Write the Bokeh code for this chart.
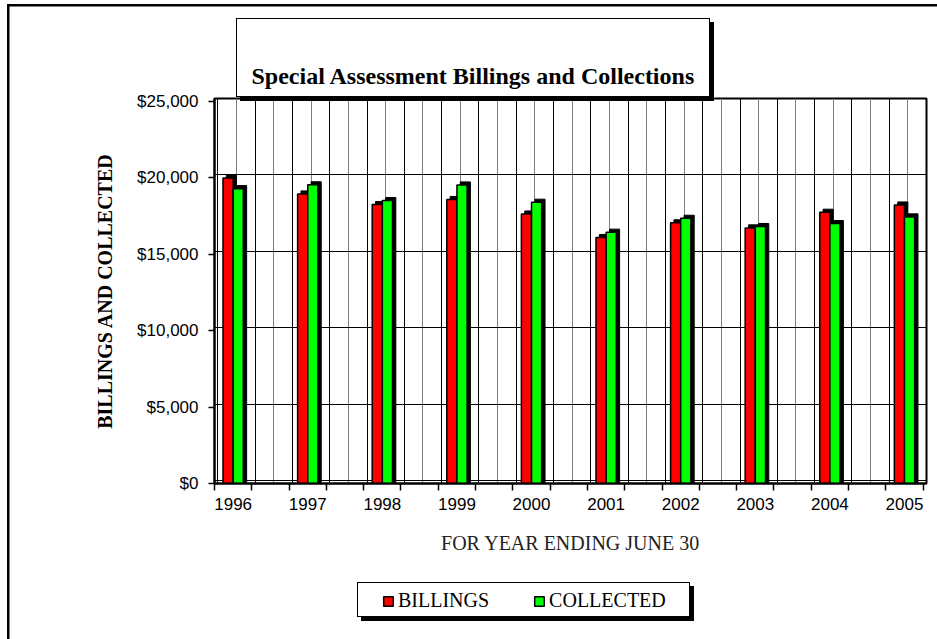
from bokeh.plotting import figure
from bokeh.layouts import column
from bokeh.models import (FixedTicker, NumeralTickFormatter, Legend, LegendItem,
                          ColumnDataSource, InlineStyleSheet)
from bokeh.transform import dodge
from bokeh.embed import file_html
from bokeh.resources import INLINE

# ---- data -------------------------------------------------------------
years = ["1996", "1997", "1998", "1999", "2000", "2001", "2002", "2003", "2004", "2005"]
billings = [20000, 18950, 18260, 18590, 17640, 16100, 17060, 16730, 17755, 18230]
collected = [19300, 19550, 18520, 19540, 18410, 16450, 17360, 16820, 17015, 17450]
y_ticks = [0, 5000, 10000, 15000, 20000, 25000]

# ---- style constants --------------------------------------------------
DX = 0.045      # pseudo 3-D depth (category units)
DY = 200        # pseudo 3-D depth (value units)
BAR_W = 0.136
OFF = 0.068
SERIF = "Liberation Serif"
SANS = "Liberation Sans"
RED = "#ff0000"
GREEN = "#00ff00"

idx = list(range(len(years)))
src = ColumnDataSource(dict(
    x=idx,
    billings=billings,
    collected=collected,
    bill_sh=[v + DY for v in billings],
    coll_sh=[v + DY for v in collected],
))

# decorative frames: chart border, title box and legend box with drop shadows
css = """
:host {
  position: relative;
  background:
    linear-gradient(#000, #000) 7px 4px / 2.5px 700px no-repeat,
    linear-gradient(#000, #000) 7px 4px / 1000px 2.5px no-repeat,
    #ffffff;
}
:host::before {
  content: ""; position: absolute; left: 236px; top: 18px;
  width: 474px; height: 79px; box-sizing: border-box;
  border: 1.5px solid #000; box-shadow: 4px 4px 0 #000;
  pointer-events: none; z-index: 5;
}
:host::after {
  content: ""; position: absolute; left: 357px; top: 582px;
  width: 333px; height: 35px; box-sizing: border-box;
  border: 1.5px solid #000; box-shadow: 4px 4px 0 #000;
  pointer-events: none; z-index: 5;
}
"""

p = figure(width=937, height=565,
           x_range=(-0.25, len(years) - 0.75 + DX),
           y_range=(0, y_ticks[-1] + DY),
           output_backend="svg", toolbar_location=None,
           min_border_left=214, min_border_right=11,
           min_border_top=98, min_border_bottom=82)
p.background_fill_color = "white"
p.border_fill_alpha = 0
p.outline_line_color = "black"
p.outline_line_width = 2

# grid (back wall, shifted by depth)
p.xgrid.ticker = FixedTicker(ticks=[-0.25 + DX + 0.5 * k for k in range(20)],
                             minor_ticks=[-0.25 + DX + 0.25 + 0.5 * k for k in range(19)])
p.xgrid.grid_line_color = "black"
p.xgrid.grid_line_width = 1
p.xgrid.minor_grid_line_color = "#808080"
p.xgrid.minor_grid_line_width = 1
p.ygrid.ticker = FixedTicker(ticks=[t + DY for t in y_ticks[:-1]])
p.ygrid.grid_line_color = "black"
p.ygrid.grid_line_width = 1

# bars with 3-D shadow
p.vbar(x=dodge("x", -OFF + DX, range=p.x_range), top="bill_sh", bottom=0, width=BAR_W,
       source=src, fill_color="black", line_color="black", line_width=1)
p.vbar(x=dodge("x", -OFF, range=p.x_range), top="billings", bottom=0, width=BAR_W,
       source=src, fill_color=RED, line_color="black", line_width=1.5)
p.vbar(x=dodge("x", OFF + DX, range=p.x_range), top="coll_sh", bottom=0, width=BAR_W,
       source=src, fill_color="black", line_color="black", line_width=1)
p.vbar(x=dodge("x", OFF, range=p.x_range), top="collected", bottom=0, width=BAR_W,
       source=src, fill_color=GREEN, line_color="black", line_width=1.5)

# y axis
p.yaxis.ticker = FixedTicker(ticks=y_ticks)
p.yaxis.formatter = NumeralTickFormatter(format="$0,0")
p.yaxis.major_tick_out = 6
p.yaxis.major_tick_in = 0
p.yaxis.minor_tick_out = 0
p.yaxis.minor_tick_in = 0
p.yaxis.axis_line_width = 2
p.yaxis.major_tick_line_width = 1.5
p.yaxis.major_label_text_font = SANS
p.yaxis.major_label_text_font_size = "17px"
p.yaxis.major_label_text_color = "black"
p.yaxis.major_label_standoff = 10
p.yaxis.axis_label = "BILLINGS AND COLLECTED"
p.yaxis.axis_label_text_font = SERIF
p.yaxis.axis_label_text_font_style = "bold"
p.yaxis.axis_label_text_font_size = "20px"
p.yaxis.axis_label_text_color = "black"
p.yaxis.axis_label_standoff = 18

# x axis
p.xaxis.ticker = FixedTicker(ticks=idx, minor_ticks=[-0.25 + 0.5 * k for k in range(20)])
p.xaxis.major_label_overrides = {i: y for i, y in zip(idx, years)}
p.xaxis.major_tick_out = 0
p.xaxis.major_tick_in = 0
p.xaxis.minor_tick_out = 7
p.xaxis.minor_tick_in = 0
p.xaxis.minor_tick_line_width = 1.5
p.xaxis.axis_line_width = 2
p.xaxis.major_label_text_font = SANS
p.xaxis.major_label_text_font_size = "17px"
p.xaxis.major_label_text_color = "black"
p.xaxis.major_label_standoff = 7
p.xaxis.axis_label = "FOR YEAR ENDING JUNE 30"
p.xaxis.axis_label_text_font = SERIF
p.xaxis.axis_label_text_font_style = "normal"
p.xaxis.axis_label_text_font_size = "20px"
p.xaxis.axis_label_text_color = "#222222"
p.xaxis.axis_label_standoff = 19

# title
p.title.text = "Special Assessment Billings and Collections"
p.title.align = "left"
p.title.offset = 37
p.title.text_font = SERIF
p.title.text_font_style = "bold"
p.title.text_font_size = "24px"
p.title.text_color = "black"
p.title.standoff = 19

# ---- legend strip (renderers hidden; legend draws their swatches) ------
q = figure(width=937, height=74, x_range=(-0.5, len(years) - 0.5),
           y_range=(100000, 200000),
           output_backend="svg", toolbar_location=None,
           x_axis_location=None, y_axis_location=None,
           min_border=0, min_border_left=0, min_border_right=0,
           min_border_top=0, min_border_bottom=0)
q.grid.visible = False
q.outline_line_color = None
q.background_fill_alpha = 0
q.border_fill_alpha = 0
lb = q.vbar(x="x", top="billings", width=BAR_W, source=src,
            fill_color=RED, line_color="black", line_width=1.5)
lc = q.vbar(x="x", top="collected", width=BAR_W, source=src,
            fill_color=GREEN, line_color="black", line_width=1.5)
lb.visible = False
lc.visible = False
legend = Legend(items=[LegendItem(label="BILLINGS", renderers=[lb]),
                       LegendItem(label="COLLECTED", renderers=[lc])],
                orientation="horizontal", location=(168, 27),
                border_line_color=None, background_fill_alpha=0,
                inactive_fill_alpha=0,
                padding=0, margin=0, spacing=44, label_standoff=4,
                glyph_width=12, glyph_height=12,
                label_text_font=SERIF, label_text_font_size="20px",
                label_text_color="black")
q.add_layout(legend)

layout = column(p, q, spacing=0, stylesheets=[InlineStyleSheet(css=css)])

open("out.html", "w").write(file_html(layout, INLINE))
